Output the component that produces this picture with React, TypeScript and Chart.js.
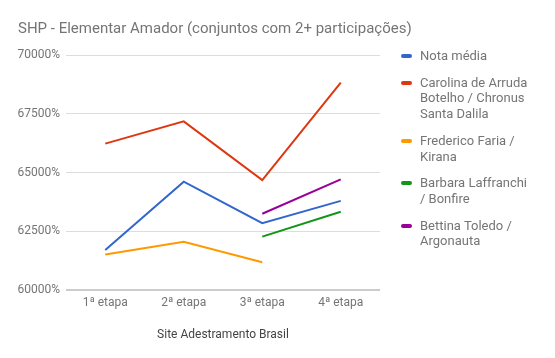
import React, { useEffect, useRef } from "react";
import { Chart, registerables } from "chart.js";

Chart.register(...registerables);

const TITLE = "SHP - Elementar Amador (conjuntos com 2+ participações)";
const X_TITLE = "Site Adestramento Brasil";
const categories = ["1ª etapa", "2ª etapa", "3ª etapa", "4ª etapa"];

const notaMedia = [61705, 64613, 62851, 63797];
const carolina = [66232, 67178, 64685, 68825];
const frederico = [61519, 62063, 61189, null];
const barbara = [null, null, 62278, 63338];
const bettina = [null, null, 63252, 64713];

const seriesNames = [
  "Nota média",
  "Carolina de Arruda\nBotelho / Chronus\nSanta Dalila",
  "Frederico Faria /\nKirana",
  "Barbara Laffranchi\n/ Bonfire",
  "Bettina Toledo /\nArgonauta",
];
const seriesValues = [notaMedia, carolina, frederico, barbara, bettina];
const seriesColors = ["#3366cc", "#dc3912", "#ff9900", "#109618", "#990099"];

const Y_MIN = 60000;
const Y_MAX = 70000;
const Y_STEP = 2500;

const FONT = "Roboto, 'Noto Sans', Arial, sans-serif";

export default function App() {
  const canvasRef = useRef<HTMLCanvasElement | null>(null);

  useEffect(() => {
    const canvas = canvasRef.current;
    if (!canvas) return;
    const chart = new Chart(canvas, {
      type: "line",
      data: {
        labels: categories,
        datasets: seriesNames.map((name, i) => ({
          label: name.replace(/\n/g, " "),
          data: seriesValues[i],
          borderColor: seriesColors[i],
          backgroundColor: seriesColors[i],
          borderWidth: 2,
          pointRadius: 0,
          pointHoverRadius: 0,
          tension: 0,
          spanGaps: false,
          fill: false,
        })),
      },
      options: {
        responsive: false,
        animation: false,
        maintainAspectRatio: false,
        layout: { padding: { left: 0, top: 55, right: 175, bottom: 16 } },
        plugins: {
          legend: { display: false },
          title: { display: false },
          tooltip: { enabled: false },
        },
        scales: {
          x: {
            offset: true,
            grid: { display: false, drawTicks: false },
            border: { display: false },
            ticks: {
              color: "#757575",
              font: { family: FONT, size: 12 },
              padding: 6,
              maxRotation: 0,
            },
            title: {
              display: true,
              text: X_TITLE,
              color: "#444444",
              font: { family: FONT, size: 12 },
              padding: { top: 11, bottom: 0 },
            },
          },
          y: {
            min: Y_MIN,
            max: Y_MAX,
            grid: {
              drawTicks: false,
              color: (ctx: any) => (ctx.tick && ctx.tick.value === Y_MIN ? "#cccccc" : "#dddddd"),
              lineWidth: (ctx: any) => (ctx.tick && ctx.tick.value === Y_MIN ? 2 : 1),
            },
            border: { display: false },
            ticks: {
              stepSize: Y_STEP,
              color: "#757575",
              font: { family: FONT, size: 12 },
              padding: 6,
              callback: (v: any) => `${v}%`,
            },
            afterFit: (scale: any) => {
              scale.width = 66;
            },
          },
        },
      },
    });
    return () => chart.destroy();
  }, []);

  return (
    <div
      style={{
        position: "fixed",
        left: 0,
        top: 0,
        width: 555,
        height: 358,
        background: "#ffffff",
        fontFamily: FONT,
      }}
    >
      <canvas ref={canvasRef} width={555} height={358} style={{ position: "absolute", left: 0, top: 0 }} />
      <div
        style={{
          position: "absolute",
          left: 18,
          top: 18,
          fontSize: 15,
          lineHeight: "20px",
          color: "#757575",
          whiteSpace: "nowrap",
        }}
      >
        {TITLE}
      </div>
      <div style={{ position: "absolute", left: 401, top: 48 }}>
        {seriesNames.map((name, i) => (
          <div key={name} style={{ position: "relative", marginBottom: 11 }}>
            <div
              style={{
                position: "absolute",
                left: 0,
                top: 6,
                width: 11,
                height: 4,
                borderRadius: 2,
                background: seriesColors[i],
              }}
            />
            <div
              style={{
                marginLeft: 19,
                fontSize: 13,
                lineHeight: "15.7px",
                color: "#757575",
                whiteSpace: "pre",
              }}
            >
              {name}
            </div>
          </div>
        ))}
      </div>
    </div>
  );
}
